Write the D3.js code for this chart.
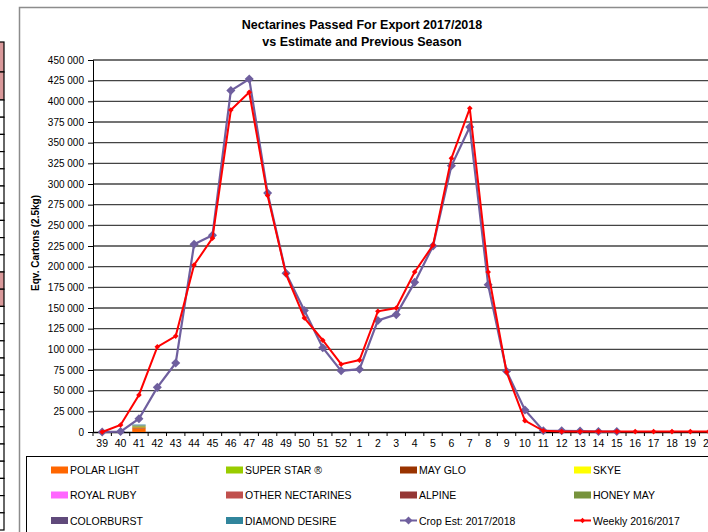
<!DOCTYPE html>
<html><head><meta charset="utf-8">
<script src="https://cdn.jsdelivr.net/npm/d3@7"></script>
<style>
html,body{margin:0;padding:0;background:#fff;overflow:hidden;}
svg{display:block;font-family:"Liberation Sans",Arial,sans-serif;}
</style></head>
<body>
<svg id="chart" width="708" height="532"></svg>
<script>
const weeks = ["39","40","41","42","43","44","45","46","47","48","49","50","51","52",
  "1","2","3","4","5","6","7","8","9","10","11","12","13","14","15","16","17","18","19","20"];
const cropEst = [0,500,16000,54000,83500,227000,238000,413000,427000,289000,192000,147000,102000,74000,
  76000,135000,142000,181000,225000,322000,369000,178000,73500,26600,1500,1500,1200,600,500,null,null,null,null,null];
const weekly = [0,8500,44800,103000,116000,202000,234500,389500,411000,286000,191000,138000,111000,82000,
  87000,146000,150000,193500,226000,331000,391500,193500,72600,13700,1500,500,500,500,500,500,500,500,500,500];
const varieties = ["POLAR LIGHT","SUPER STAR ®","MAY GLO","SKYE","ROYAL RUBY","OTHER NECTARINES","ALPINE","HONEY MAY","COLORBURST","DIAMOND DESIRE"];
const varietyColors = ["#ff6600","#99cc00","#993300","#ffff00","#ff66ff","#c0504d","#953735","#77933c","#604a7b","#31859c"];
// stacked varieties passed (week 41 only so far)
const passedWeek41 = {"POLAR LIGHT":4200,"MAY GLO":1500,"SKYE":500,"HONEY MAY":900,"SUPER STAR ®":600,"COLORBURST":500,"DIAMOND DESIRE":800,"ROYAL RUBY":0,"OTHER NECTARINES":0,"ALPINE":0};
const stackOrder = ["POLAR LIGHT","MAY GLO","SKYE","HONEY MAY","SUPER STAR ®","ROYAL RUBY","OTHER NECTARINES","ALPINE","COLORBURST","DIAMOND DESIRE"];
const yTicks = d3.range(0, 450001, 25000);
const titleLines = ["Nectarines Passed For Export 2017/2018","vs Estimate and Previous Season"];
const yTitle = "Eqv. Cartons (2.5kg)";
const seriesNames = ["Crop Est: 2017/2018","Weekly 2016/2017"];
const seriesColors = ["#6f5f9e","#ff0000"];

const svg = d3.select("#chart");

// spreadsheet fragment at far left
const strip = svg.append("g");
const rowEdges = [42,72,100];
for (let y = 117.2; y < 540; y += 17.2) rowEdges.push(y);
for (let i = 0; i < rowEdges.length - 1; i++) {
  const y0 = rowEdges[i], y1 = rowEdges[i+1];
  const pink = (y0 < 100) || (y0 > 265 && y0 < 290);
  strip.append("rect").attr("x",-2).attr("y",y0).attr("width",6).attr("height",y1-y0)
    .attr("fill", pink ? "#d9999a" : "#fff").attr("stroke","#000").attr("stroke-width",1.2);
}

// chart frame
svg.append("path").attr("d","M19.5,540 V7.5 H720").attr("fill","none").attr("stroke","#8c8c8c").attr("stroke-width",1.5);

const x = d3.scaleBand().domain(weeks).range([93, 93 + 34*18.38]).paddingInner(0).paddingOuter(0);
const y = d3.scaleLinear().domain([0,450000]).range([432,60]);

// gridlines
svg.append("g").selectAll("line").data(yTicks.filter(d=>d>0)).join("line")
  .attr("x1",93).attr("x2",720).attr("y1",d=>y(d)).attr("y2",d=>y(d))
  .attr("stroke","#444").attr("stroke-width",1.4);

// y axis
const yAxis = svg.append("g").attr("transform","translate(93,0)")
  .call(d3.axisLeft(y).tickValues(yTicks).tickSize(5).tickPadding(4)
    .tickFormat(d => d3.format(",")(d).replace(/,/g," ")));
yAxis.select(".domain").attr("stroke","#000");
yAxis.selectAll("line").attr("stroke","#000");
yAxis.selectAll("text").attr("font-size","10px").attr("fill","#000").attr("font-family","Liberation Sans, Arial, sans-serif");

// x axis
const xAxis = svg.append("g").attr("transform","translate(0,432)")
  .call(d3.axisBottom(x).tickSize(0).tickPadding(8));
xAxis.select(".domain").attr("stroke","#000").attr("stroke-width",1.5);
xAxis.selectAll("text").attr("font-size","10.5px").attr("fill","#000").attr("font-family","Liberation Sans, Arial, sans-serif");
svg.append("g").selectAll("line").data(weeks).join("line")
  .attr("x1",d=>x(d)).attr("x2",d=>x(d)).attr("y1",432).attr("y2",436)
  .attr("stroke","#000");

// stacked bar week 41
const barX = x("41") + 2.5, barW = x.bandwidth() - 5;
let acc = 0;
stackOrder.forEach(v => {
  const val = passedWeek41[v];
  if (!val) return;
  const c = varietyColors[varieties.indexOf(v)];
  svg.append("rect").attr("x",barX).attr("width",barW)
    .attr("y",y(acc+val)).attr("height",y(acc)-y(acc+val)).attr("fill",c);
  acc += val;
});

// lines
const lineGen = d3.line().defined(d=>d.v!==null).x(d=>x(d.w)+x.bandwidth()/2).y(d=>y(d.v));
const cropData = weeks.map((w,i)=>({w, v:cropEst[i]}));
const weeklyData = weeks.map((w,i)=>({w, v:weekly[i]}));

svg.append("path").datum(cropData).attr("d",lineGen).attr("fill","none")
  .attr("stroke",seriesColors[0]).attr("stroke-width",2.2);
svg.append("g").selectAll("path").data(cropData.filter(d=>d.v!==null)).join("path")
  .attr("d", d3.symbol(d3.symbolDiamond2, 52))
  .attr("transform", d=>`translate(${x(d.w)+x.bandwidth()/2},${y(d.v)})`)
  .attr("fill",seriesColors[0]);

svg.append("path").datum(weeklyData).attr("d",lineGen).attr("fill","none")
  .attr("stroke",seriesColors[1]).attr("stroke-width",2);
svg.append("g").selectAll("path").data(weeklyData).join("path")
  .attr("d", d3.symbol(d3.symbolDiamond2, 20))
  .attr("transform", d=>`translate(${x(d.w)+x.bandwidth()/2},${y(d.v)})`)
  .attr("fill",seriesColors[1]);

// title
svg.append("g").selectAll("text").data(titleLines).join("text")
  .attr("x",362).attr("y",(d,i)=>29+i*17).attr("text-anchor","middle")
  .attr("font-size","12.5px").attr("font-weight","bold").attr("fill","#000").text(d=>d);

// y title
svg.append("text").attr("transform","translate(39,243) rotate(-90)")
  .attr("text-anchor","middle").attr("font-size","10px").attr("font-weight","bold").text(yTitle);

// legend
svg.append("rect").attr("x",26.5).attr("y",456.5).attr("width",720).attr("height",120)
  .attr("fill","none").attr("stroke","#000").attr("stroke-width",1);
const colX = [51,226,400,574];
const rowY = [470,495,520.5];
const legendItems = varieties.map((n,i)=>({name:n, color:varietyColors[i], type:"rect"}))
  .concat(seriesNames.map((n,i)=>({name:n, color:seriesColors[i], type:"line", big:i===0})));
legendItems.forEach((it,i) => {
  const cx = colX[i%4], cy = rowY[Math.floor(i/4)];
  const g = svg.append("g");
  if (it.type==="rect") {
    g.append("rect").attr("x",cx).attr("y",cy-3.5).attr("width",17).attr("height",7).attr("fill",it.color);
  } else {
    g.append("line").attr("x1",cx).attr("x2",cx+17).attr("y1",cy).attr("y2",cy)
      .attr("stroke",it.color).attr("stroke-width",2);
    g.append("path").attr("d",d3.symbol(d3.symbolDiamond2, it.big?40:18))
      .attr("transform",`translate(${cx+8.5},${cy})`).attr("fill",it.color);
  }
  g.append("text").attr("x",cx+19).attr("y",cy+4).attr("font-size","10.5px").attr("fill","#000").text(it.name);
});
</script>
</body></html>
